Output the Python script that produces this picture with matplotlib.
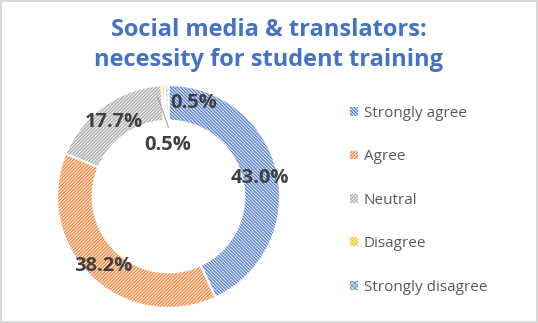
import numpy as np
import matplotlib
matplotlib.use("Agg")
import matplotlib.pyplot as plt
from matplotlib.patches import Patch

plt.rcParams['font.family'] = ['Open Sans', 'DejaVu Sans']
plt.rcParams['hatch.linewidth'] = 0.7

categories = ['Strongly agree', 'Agree', 'Neutral', 'Disagree', 'Strongly disagree']
shares = [43.0, 38.2, 17.7, 0.5, 0.5]
colors = ['#4472C4', '#ED7D31', '#A5A5A5', '#FFC000', '#5B9BD5']
tints = ['#D3DEF2', '#FBDCC6', '#E8E8E8', '#FFEDB3', '#D5E5F4']
hatches = ['\\' * 10, '/' * 10, '/' * 10, '/' * 10, 'x' * 7]
title = 'Social media & translators:\nnecessity for student training'

W, H = 538, 323
fig = plt.figure(figsize=(W / 100, H / 100), dpi=100)
fig.patch.set_edgecolor('#D9D9D9')
fig.patch.set_linewidth(1.5)

# donut axes: centre ~(168, 196) px, outer radius ~111 px
cx, cy, R = 168.5, 196.5, 111.5
ax = fig.add_axes([(cx - R) / W, (H - cy - R) / H, 2 * R / W, 2 * R / H])

ring = 0.32
wedges, _ = ax.pie(shares, colors=tints, startangle=90, counterclock=False,
                   radius=1, wedgeprops=dict(width=ring, linewidth=0))
for w, c, h in zip(wedges, colors, hatches):
    w.set_edgecolor(c)
    w.set_hatch(h)
# white separators drawn on top
outline, _ = ax.pie(shares, startangle=90, counterclock=False, radius=1,
                    wedgeprops=dict(width=ring, fill=False, edgecolor='white', linewidth=1.5))

ax.set_xlim(-1, 1)
ax.set_ylim(-1, 1)
ax.set_aspect('equal')
ax.axis('off')

# percentage labels at the middle of each wedge
total = sum(shares)
angles = []
start = 90.0
for v in shares:
    span = 360.0 * v / total
    angles.append(start - span / 2)
    start -= span

lab_kw = dict(fontsize=14.5, fontweight='bold', color='#404040', ha='center', va='center')
rmid = 1 - ring / 2
for i in range(3):
    a = np.deg2rad(angles[i])
    ax.text(rmid * np.cos(a), rmid * np.sin(a) - 0.02, f'{shares[i]:.1f}%', **lab_kw)

# the two thin slices near the top
a3 = np.deg2rad(angles[3])
ax.plot([0.96 * np.cos(a3) - 0.05, 0.0], [0.89, 0.62], color='#A6A6A6', lw=0.8)
ax.text(-0.01, 0.46, f'{shares[3]:.1f}%', **lab_kw)
ax.text(0.23, 0.84, f'{shares[4]:.1f}%', **lab_kw)

handles = [Patch(facecolor=t, edgecolor=c, hatch=h, linewidth=0)
           for t, c, h in zip(tints, colors, hatches)]
fig.legend(handles, categories, loc='upper left', bbox_to_anchor=(350 / W, 1 - 106 / H),
           frameon=False, fontsize=11, labelcolor='#595959',
           handlelength=0.5, handleheight=0.5, handletextpad=0.4,
           labelspacing=1.86, borderpad=0, borderaxespad=0)

fig.text(0.5, 1 - 45 / H, title, ha='center', va='center', fontsize=17,
         fontweight='bold', color='#4472C4', linespacing=1.35)

fig.savefig('out.png', dpi=100, edgecolor=fig.get_edgecolor())
